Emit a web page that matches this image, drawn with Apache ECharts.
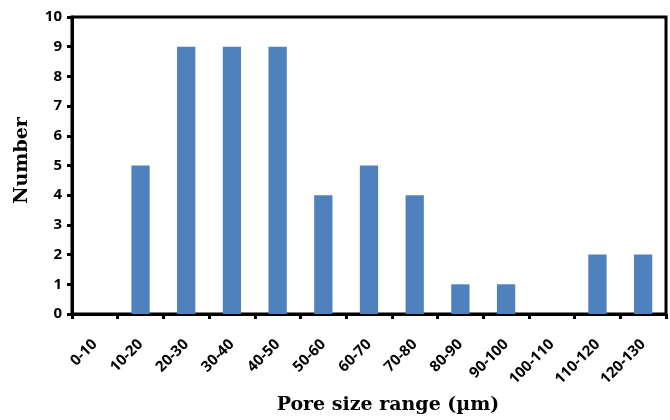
<!DOCTYPE html>
<html>
<head>
<meta charset="utf-8">
<script src="https://cdn.jsdelivr.net/npm/echarts@6/dist/echarts.min.js"></script>
<style>
  html, body { margin: 0; padding: 0; background: #fff; }
  #chart { width: 670px; height: 420px; }
</style>
</head>
<body>
<div id="chart"></div>
<script>
// Pore size histogram: counts per 10 µm bin
const categories = ['0-10', '10-20', '20-30', '30-40', '40-50', '50-60', '60-70',
  '70-80', '80-90', '90-100', '100-110', '110-120', '120-130'];
const counts = [0, 5, 9, 9, 9, 4, 5, 4, 1, 1, 0, 2, 2];
const yTicks = { min: 0, max: 10, interval: 1 };

const chart = echarts.init(document.getElementById('chart'));
chart.setOption({
  animation: false,
  grid: {
    left: 72, right: 4, top: 17, bottom: 105,
    show: true, borderColor: '#000', borderWidth: 3, backgroundColor: '#fff'
  },
  xAxis: {
    type: 'category',
    data: categories,
    name: 'Pore size range (µm)',
    nameLocation: 'middle',
    nameGap: 82,
    nameTextStyle: { fontFamily: 'DejaVu Serif', fontWeight: 'bold', fontSize: 19, color: '#000', padding: [0, 0, 0, 38] },
    axisLine: { lineStyle: { color: '#000', width: 3 } },
    axisTick: { show: true, alignWithLabel: false, length: 5, lineStyle: { color: '#000', width: 3 } },
    axisLabel: {
      rotate: 45, interval: 0, margin: 28,
      fontFamily: 'Open Sans', fontWeight: 'bold', fontSize: 15, color: '#000'
    }
  },
  yAxis: {
    type: 'value',
    min: yTicks.min, max: yTicks.max, interval: yTicks.interval,
    name: 'Number',
    nameLocation: 'middle',
    nameGap: 40,
    nameTextStyle: { fontFamily: 'DejaVu Serif', fontWeight: 'bold', fontSize: 19, color: '#000', padding: [0, 0, 0, 10] },
    axisLine: { show: true, lineStyle: { color: '#000', width: 3 } },
    axisTick: { show: true, length: 5, lineStyle: { color: '#000', width: 3 } },
    axisLabel: { margin: 10, fontFamily: 'Open Sans', fontWeight: 'bold', fontSize: 15, color: '#000' },
    splitLine: { show: false }
  },
  series: [{
    type: 'bar',
    data: counts,
    barWidth: '40%',
    itemStyle: { color: '#4F81BD' }
  }]
});
</script>
</body>
</html>
